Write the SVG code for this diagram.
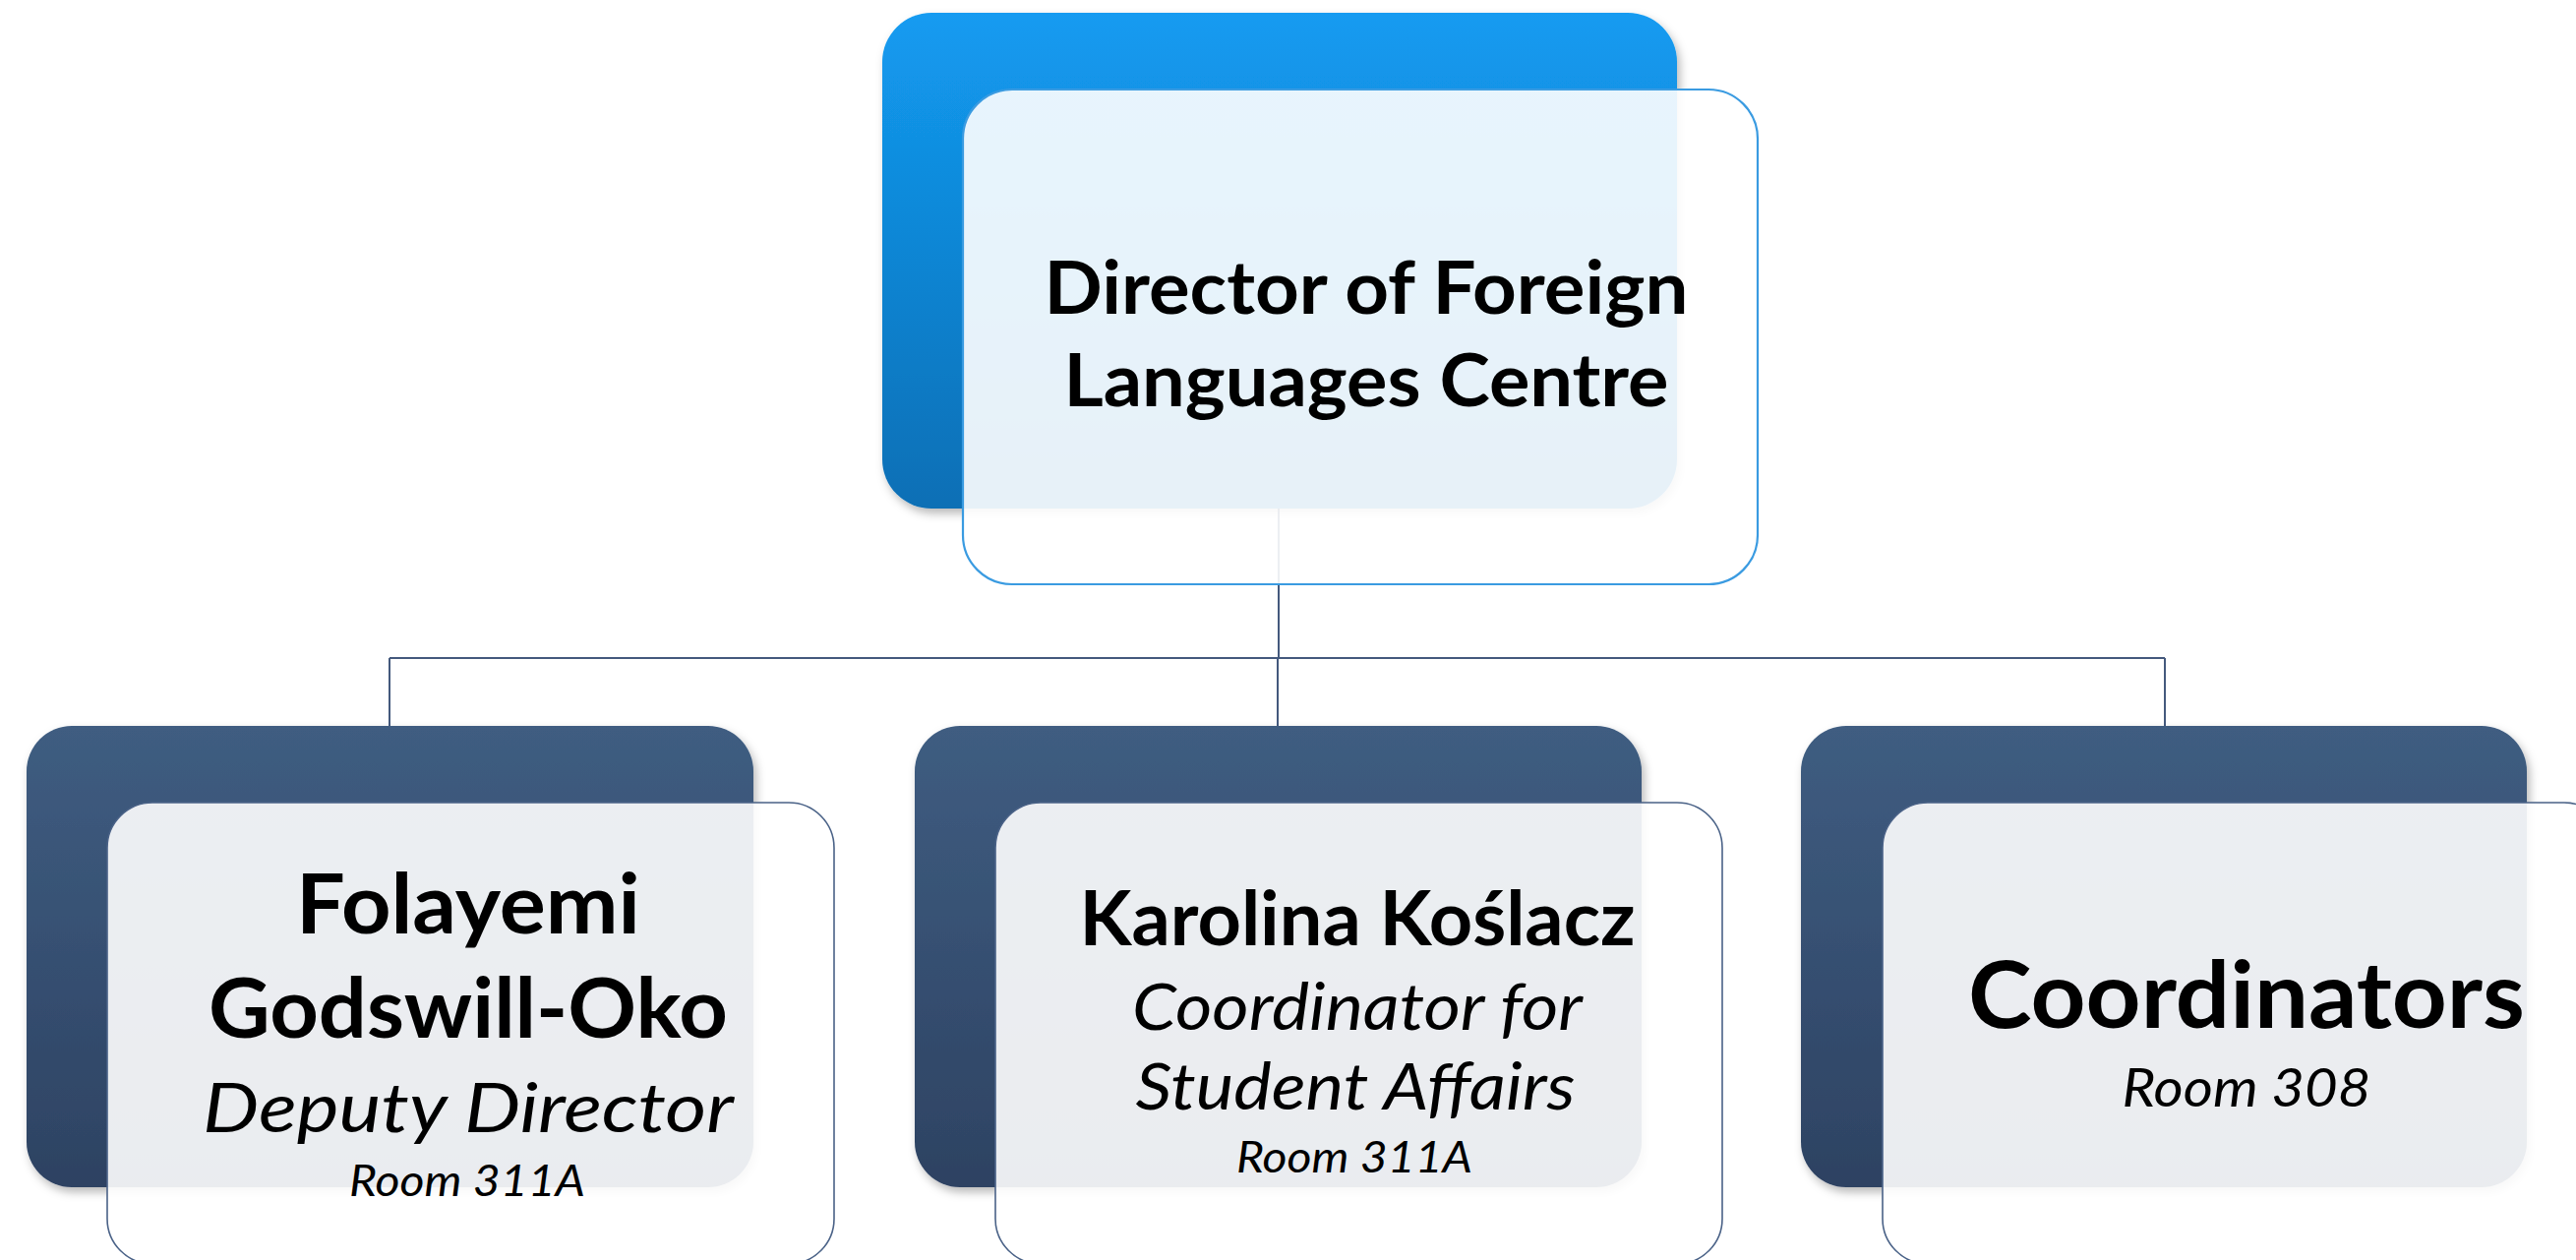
<svg xmlns="http://www.w3.org/2000/svg" width="2619" height="1281" viewBox="0 0 2619 1281">
<defs>
<linearGradient id="gTop" x1="0" y1="0" x2="0" y2="1">
<stop offset="0" stop-color="#139BF1"/>
<stop offset="1" stop-color="#0B6FB5"/>
</linearGradient>
<linearGradient id="gSub" x1="0" y1="0" x2="0" y2="1">
<stop offset="0" stop-color="#3F5D81"/>
<stop offset="1" stop-color="#2D4262"/>
</linearGradient>
<filter id="sh" x="-10%" y="-10%" width="125%" height="130%">
<feDropShadow dx="3" dy="5" stdDeviation="5" flood-color="#000" flood-opacity="0.28"/>
</filter>
</defs>
<style>
.conn{stroke:#44597D;stroke-width:2;fill:none}
.backTop{fill:url(#gTop);filter:url(#sh)}
.backSub{fill:url(#gSub);filter:url(#sh)}
.frontTop{fill:#fff;fill-opacity:0.9;stroke:#3A9BE1;stroke-width:2.2}
.frontSub{fill:#fff;fill-opacity:0.9;stroke:#4A6287;stroke-width:1.6}
text{font-family:Lato,"Open Sans","Noto Sans",sans-serif;fill:#000;text-anchor:middle}
.b{font-weight:700}
.i{font-style:italic}
</style>
<rect width="2619" height="1281" fill="#fff"/>
<g id="connectors">
<line class="conn" x1="1300" y1="517" x2="1300" y2="669"/>
<line class="conn" x1="396" y1="669" x2="2201" y2="669" stroke-width="2.5"/>
<line class="conn" x1="396" y1="669" x2="396" y2="738"/>
<line class="conn" x1="1299" y1="669" x2="1299" y2="738"/>
<line class="conn" x1="2201" y1="669" x2="2201" y2="738"/>
</g>
<g id="node-director">
<rect class="backTop" x="897" y="13" width="808" height="504" rx="50" ry="50"/>
<rect class="frontTop" x="979" y="91" width="808" height="503" rx="50" ry="50"/>
<text class="b" x="1389" y="319" font-size="75" textLength="655" lengthAdjust="spacingAndGlyphs">Director of Foreign</text>
<text class="b" x="1389" y="413" font-size="75" textLength="615" lengthAdjust="spacingAndGlyphs">Languages Centre</text>
</g>
<g id="node-deputy">
<rect class="backSub" x="27" y="738" width="739" height="469" rx="46" ry="46"/>
<rect class="frontSub" x="109" y="816" width="739" height="469" rx="46" ry="46"/>
<text class="b" x="476" y="949" font-size="85" textLength="350" lengthAdjust="spacingAndGlyphs">Folayemi</text>
<text class="b" x="476" y="1055" font-size="85" textLength="528" lengthAdjust="spacingAndGlyphs">Godswill-Oko</text>
<text class="i" x="476" y="1151" font-size="70" textLength="540" lengthAdjust="spacingAndGlyphs">Deputy Director</text>
<text class="i" x="475" y="1216" font-size="45" textLength="240" lengthAdjust="spacingAndGlyphs">Room 311A</text>
</g>
<g id="node-student">
<rect class="backSub" x="930" y="738" width="739" height="469" rx="46" ry="46"/>
<rect class="frontSub" x="1012" y="816" width="739" height="469" rx="46" ry="46"/>
<text class="b" x="1380" y="961" font-size="76" textLength="565" lengthAdjust="spacingAndGlyphs">Karolina Koślacz</text>
<text class="i" x="1380" y="1047" font-size="66" textLength="458" lengthAdjust="spacingAndGlyphs">Coordinator for</text>
<text class="i" x="1378" y="1128" font-size="66" textLength="447" lengthAdjust="spacingAndGlyphs">Student Affairs</text>
<text class="i" x="1377" y="1192" font-size="45" textLength="240" lengthAdjust="spacingAndGlyphs">Room 311A</text>
</g>
<g id="node-coordinators">
<rect class="backSub" x="1831" y="738" width="738" height="469" rx="46" ry="46"/>
<rect class="frontSub" x="1914" y="816" width="739" height="469" rx="46" ry="46"/>
<text class="b" x="2284" y="1045" font-size="94" textLength="566" lengthAdjust="spacingAndGlyphs">Coordinators</text>
<text class="i" x="2284" y="1125" font-size="54" textLength="253" lengthAdjust="spacingAndGlyphs">Room 308</text>
</g>
</svg>
